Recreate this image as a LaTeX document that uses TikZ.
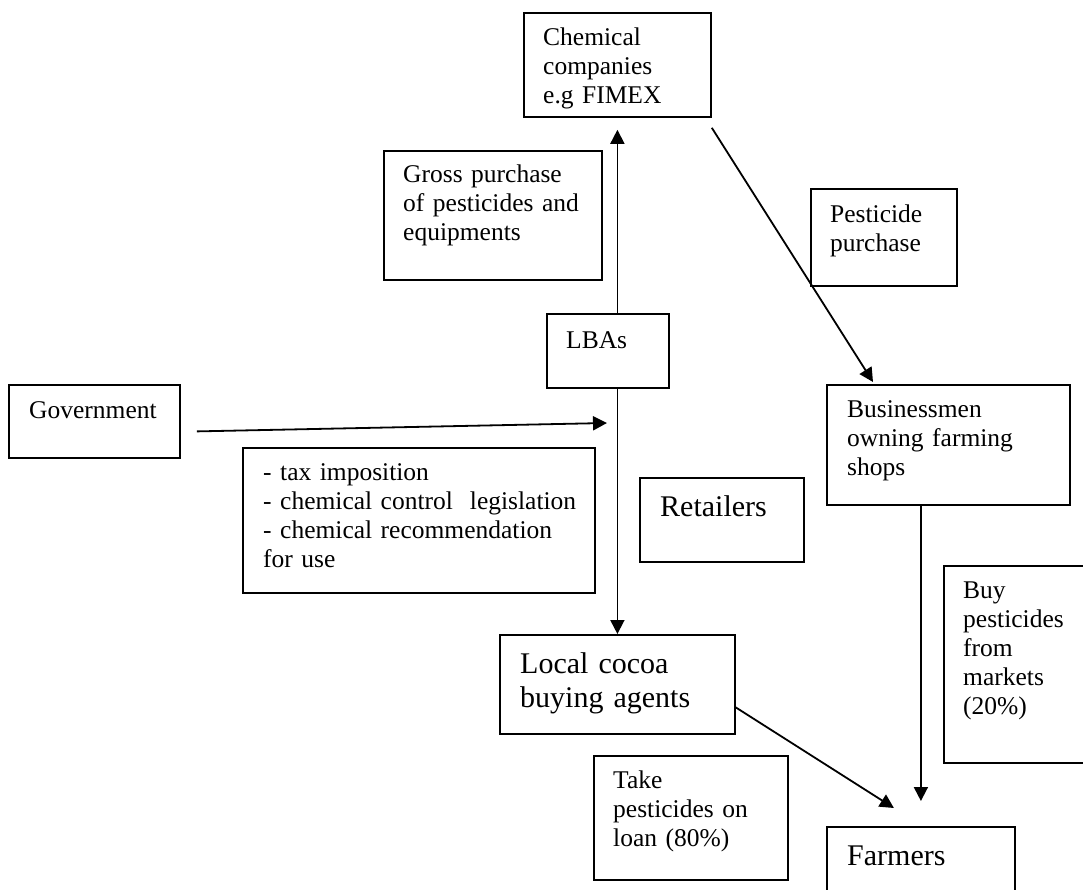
\documentclass[tikz,border=0pt]{standalone}
\usepackage{fontspec}
\setmainfont{Liberation Serif}
\usetikzlibrary{arrows.meta}

\tikzset{
  box/.style={draw, line width=1.8pt, anchor=north west, inner sep=0pt},
  txt/.style={anchor=base west, inner sep=0pt, align=left, text width=400pt,
    font=\fontsize{25.5}{29}\selectfont},
  bigtxt/.style={txt, font=\fontsize{30}{34.5}\selectfont},
  arr/.style={-{Triangle[length=14pt,width=14pt]}, line width=1.8pt}
}

\begin{document}
\begin{tikzpicture}[x=1pt,y=-1pt]
\useasboundingbox (0,0) rectangle (1083,890);

\node[box, minimum width=187pt, minimum height=104pt] (chem) at (523,12) {};
\node[txt] (chemtext) at ([shift={(20pt,-34pt)}]chem.north west) {Chemical\\companies\\e.g FIMEX};

\node[box, minimum width=218pt, minimum height=129pt] (gross) at (383,150) {};
\node[txt] (grosstext) at ([shift={(20pt,-33pt)}]gross.north west) {Gross purchase\\of pesticides and\\equipments};

\node[box, minimum width=122pt, minimum height=74pt] (lbas) at (546,313) {};
\node[txt] (lbastext) at ([shift={(20pt,-35pt)}]lbas.north west) {LBAs};

\node[box, minimum width=171pt, minimum height=73pt] (gov) at (8,384) {};
\node[txt] (govtext) at ([shift={(21pt,-34pt)}]gov.north west) {Government};

\node[box, minimum width=352pt, minimum height=145pt] (legis) at (242,447) {};
\node[txt] (legistext) at ([shift={(21pt,-33pt)}]legis.north west) {- tax imposition\\- chemical control~ legislation\\- chemical recommendation\\for use};

\node[box, minimum width=146pt, minimum height=97pt] (pest) at (810,188) {};
\node[txt] (pesttext) at ([shift={(20pt,-35pt)}]pest.north west) {Pesticide\\purchase};

\node[box, minimum width=243pt, minimum height=120pt] (bus) at (826,384) {};
\node[txt] (bustext) at ([shift={(21pt,-33pt)}]bus.north west) {Businessmen\\owning farming\\shops};

\node[box, minimum width=164pt, minimum height=84pt] (retail) at (639,477) {};
\node[bigtxt] (retailtext) at ([shift={(21pt,-39pt)}]retail.north west) {Retailers};

\node[box, minimum width=235pt, minimum height=99pt] (local) at (499,634) {};
\node[bigtxt] (localtext) at ([shift={(21pt,-39pt)}]local.north west) {Local cocoa\\buying agents};

\node[box, minimum width=194pt, minimum height=124pt] (take) at (593,755) {};
\node[txt] (taketext) at ([shift={(20pt,-33pt)}]take.north west) {Take\\pesticides on\\loan (80\%)};

\node[box, minimum width=200pt, minimum height=197pt] (buy) at (943,565) {};
\node[txt] (buytext) at ([shift={(20pt,-33pt)}]buy.north west) {Buy\\pesticides\\from\\markets\\(20\%)};

\node[box, minimum width=188pt, minimum height=94pt] (farm) at (826,826) {};
\node[bigtxt] (farmtext) at ([shift={(21pt,-39pt)}]farm.north west) {Farmers};

\coordinate (govend) at (607,423);

\draw[arr, shorten >=12pt] (chem.south |- lbas.north) -- (chem.south);
\draw[arr] (lbas.south -| chem.south) -- (local.north -| chem.south);
\draw[arr] ([xshift=16pt,yshift=-10pt]gov.east) -- (govend);
\draw[arr] ([yshift=-10pt]chem.south east) -- ([xshift=47pt,yshift=2pt]bus.north west);
\draw[arr] (farm.north |- bus.south) -- ([yshift=25pt]farm.north);
\draw[arr] ([yshift=-23pt]local.east) -- ([xshift=-27pt,yshift=18pt]farm.north);
\end{tikzpicture}
\end{document}
